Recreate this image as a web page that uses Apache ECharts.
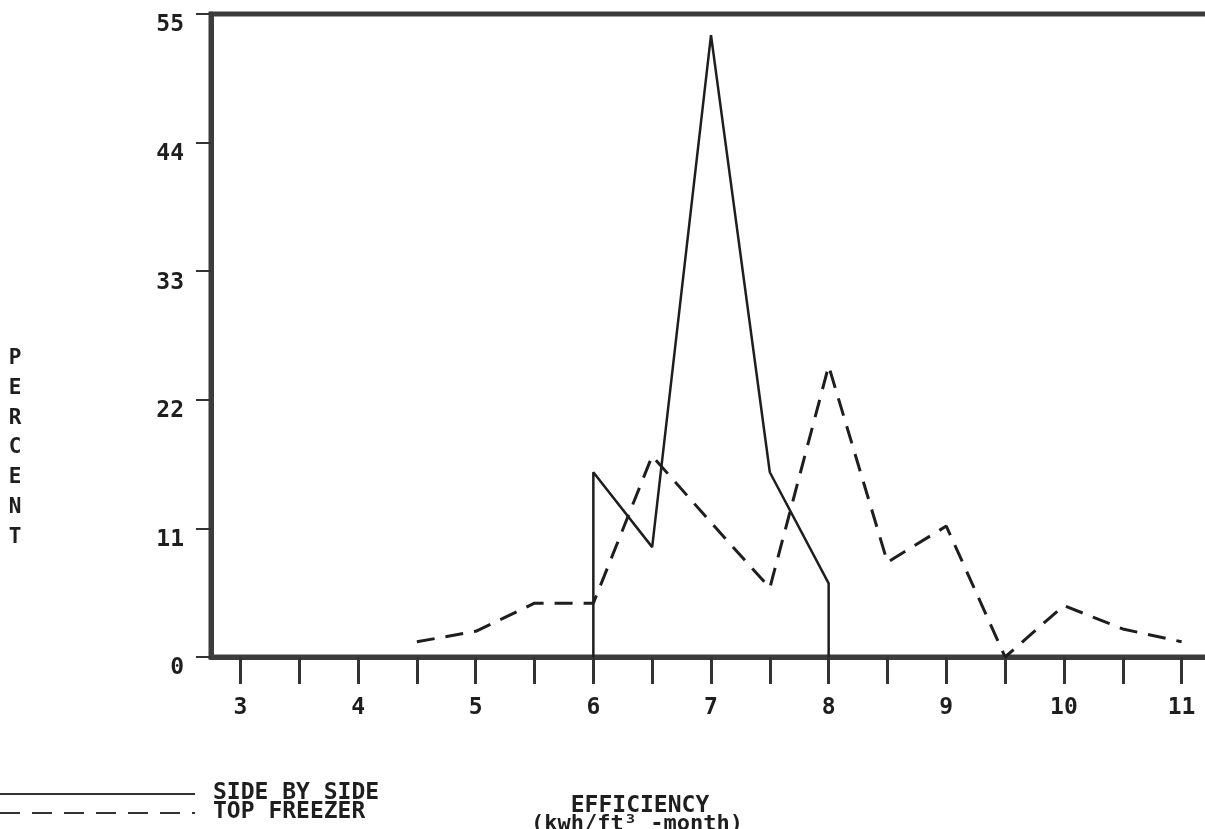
<!DOCTYPE html>
<html>
<head>
<meta charset="utf-8">
<script src="https://cdn.jsdelivr.net/npm/echarts@6/dist/echarts.min.js"></script>
<style>
html,body{margin:0;padding:0;background:#fff;}
#chart{width:1205px;height:829px;}
</style>
</head>
<body>
<div id="chart"></div>
<script>
// Data
var sideBySideX = [6, 6, 6.5, 7, 7.5, 8, 8];
var sideBySideY = [0, 15.8, 9.4, 53.2, 15.8, 6.3, 0];
var topFreezerX = [4.5, 5, 5.5, 6, 6.5, 7, 7.5, 8, 8.5, 9, 9.5, 10, 10.5, 11];
var topFreezerY = [1.3, 2.2, 4.6, 4.6, 17.2, 11.5, 5.9, 24.9, 8.1, 11.2, 0, 4.4, 2.4, 1.3];
var xTickValues = [3, 3.5, 4, 4.5, 5, 5.5, 6, 6.5, 7, 7.5, 8, 8.5, 9, 9.5, 10, 10.5, 11];
var xLabelValues = [3, 4, 5, 6, 7, 8, 9, 10, 11];
var yTickValues = [0, 11, 22, 33, 44, 55];
var seriesNames = ['SIDE BY SIDE', 'TOP FREEZER'];
var xTitle = 'EFFICIENCY';
var xUnit = '(kwh/ft\u00B3 -month)';
var yTitle = 'PERCENT';

function pairs(xs, ys) { return xs.map(function (x, i) { return [x, ys[i]]; }); }

var font = '"DejaVu Sans Mono", monospace';
var ink = '#1e1e1e';
var chart = echarts.init(document.getElementById('chart'), null, {renderer: 'canvas'});
chart.setOption({
  animation: false,
  backgroundColor: '#fff',
  grid: {
    left: 211, top: 14, width: 1000, bottom: 172,
    outerBoundsMode: 'none', containLabel: false,
    show: true, borderColor: '#3c3c3c', borderWidth: 5, backgroundColor: 'transparent'
  },
  xAxis: {
    type: 'value', min: 2.75, max: 11.25,
    axisLine: {show: true, onZero: false, lineStyle: {color: '#3c3c3c', width: 5}},
    axisTick: {show: true, customValues: xTickValues, length: 27, lineStyle: {color: '#333', width: 3}},
    axisLabel: {customValues: xLabelValues, margin: 40, color: ink, fontFamily: font, fontWeight: 'bold', fontSize: 23},
    splitLine: {show: false}
  },
  yAxis: {
    type: 'value', min: 0, max: 55, interval: 11,
    axisLine: {show: true, lineStyle: {color: '#3c3c3c', width: 5}},
    axisTick: {show: true, length: 15, lineStyle: {color: '#333', width: 2}},
    axisLabel: {margin: 27, verticalAlign: 'top', color: ink, fontFamily: font, fontWeight: 'bold', fontSize: 23},
    splitLine: {show: false}
  },
  series: [
    {
      name: seriesNames[0], type: 'line', data: pairs(sideBySideX, sideBySideY),
      symbol: 'none', lineStyle: {color: ink, width: 2.5, type: 'solid'}, z: 3
    },
    {
      name: seriesNames[1], type: 'line', data: pairs(topFreezerX, topFreezerY),
      symbol: 'none', lineStyle: {color: ink, width: 3, type: [18, 11]}, z: 3
    }
  ],
  graphic: [
    {type: 'text', x: 15, y: 344, style: {text: yTitle.split('').join('\n'), fill: ink, font: 'bold 21px ' + font, lineHeight: 29.7, align: 'center'}},
    {type: 'line', shape: {x1: 0, y1: 794, x2: 195, y2: 794}, style: {stroke: '#333', lineWidth: 2}},
    {type: 'line', shape: {x1: 0, y1: 813, x2: 195, y2: 813}, style: {stroke: '#333', lineWidth: 2, lineDash: [20, 12]}},
    {type: 'text', x: 213, y: 793, style: {text: seriesNames[0], fill: ink, font: 'bold 23px ' + font, verticalAlign: 'middle'}},
    {type: 'text', x: 213, y: 812, style: {text: seriesNames[1], fill: ink, font: 'bold 23px ' + font, verticalAlign: 'middle'}},
    {type: 'text', x: 640, y: 806, style: {text: xTitle, fill: ink, font: 'bold 23px ' + font, align: 'center', verticalAlign: 'middle'}},
    {type: 'text', x: 637, y: 824, style: {text: xUnit, fill: ink, font: 'bold 22px ' + font, align: 'center', verticalAlign: 'middle'}}
  ]
});
</script>
</body>
</html>
